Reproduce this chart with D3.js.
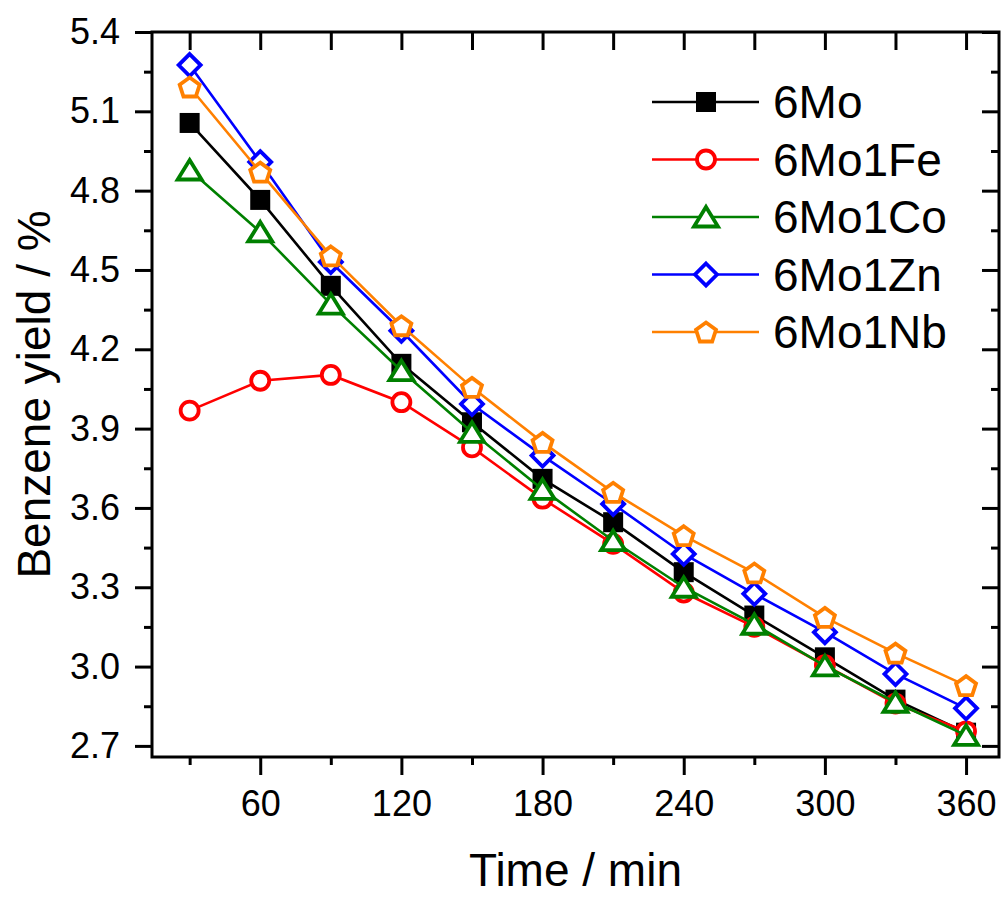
<!DOCTYPE html>
<html>
<head>
<meta charset="utf-8">
<script src="https://cdn.jsdelivr.net/npm/d3@7"></script>
<style>
  body { margin: 0; background: #fff; }
  text { font-family: Arial, "Liberation Sans", sans-serif; fill: #000; }
</style>
</head>
<body>
<div id="container"></div>
<script>
/* CONSTANTS AND GLOBALS */
const width = 1003;
const height = 898;
const margin = { top: 32, right: 4, bottom: 141, left: 152 };

/* DATA */
const times = [30, 60, 90, 120, 150, 180, 210, 240, 270, 300, 330, 360];
const mo   = [5.056, 4.765, 4.44, 4.145, 3.924, 3.71, 3.546, 3.357, 3.193, 3.035, 2.875, 2.75];
const moFe = [3.968, 4.081, 4.103, 4.0, 3.829, 3.635, 3.464, 3.28, 3.15, 3.005, 2.86, 2.755];
const moCo = [4.878, 4.644, 4.371, 4.119, 3.886, 3.67, 3.476, 3.30, 3.16, 3.003, 2.865, 2.74];
const moZn = [5.275, 4.908, 4.53, 4.27, 3.993, 3.798, 3.615, 3.426, 3.275, 3.13, 2.972, 2.842];
const moNb = [5.192, 4.87, 4.553, 4.289, 4.056, 3.848, 3.659, 3.495, 3.354, 3.186, 3.051, 2.928];

const seriesNames = ['6Mo', '6Mo1Fe', '6Mo1Co', '6Mo1Zn', '6Mo1Nb'];
const seriesColors = ['#000000', '#ff0000', '#008000', '#0000ff', '#ff8000'];
const seriesSymbols = ['square', 'circle', 'triangle', 'diamond', 'pentagon'];

const xMajorTicks = [60, 120, 180, 240, 300, 360];
const xMinorTicks = [30, 90, 150, 210, 270, 330];
const yMajorTicks = [2.7, 3.0, 3.3, 3.6, 3.9, 4.2, 4.5, 4.8, 5.1, 5.4];
const yMinorTicks = [2.85, 3.15, 3.45, 3.75, 4.05, 4.35, 4.65, 4.95, 5.25];

const series = [mo, moFe, moCo, moZn, moNb].map((vals, i) => ({
  name: seriesNames[i],
  color: seriesColors[i],
  symbol: seriesSymbols[i],
  values: times.map((t, j) => ({ t: t, v: vals[j] }))
}));

/* SCALES */
const x0 = margin.left, x1 = width - margin.right;
const y0 = height - margin.bottom, y1 = margin.top;

const xScale = d3.scaleLinear().domain([14, 374]).range([x0, x1]);
const yScale = d3.scaleLinear().domain([2.658, 5.4]).range([y0, y1]);

/* SVG */
const svg = d3.select('#container')
  .append('svg')
  .attr('width', width)
  .attr('height', height);

// markers
function drawMarker(g, symbol, color) {
  if (symbol === 'square') {
    g.append('rect').attr('x', -10).attr('y', -10).attr('width', 20).attr('height', 20)
      .attr('fill', color);
  } else if (symbol === 'circle') {
    g.append('circle').attr('r', 9).attr('fill', '#fff')
      .attr('stroke', color).attr('stroke-width', 3.8);
  } else if (symbol === 'triangle') {
    g.append('path').attr('d', 'M0,-10 L12,9.5 L-12,9.5 Z').attr('fill', '#fff')
      .attr('stroke', color).attr('stroke-width', 3.8).attr('stroke-linejoin', 'miter');
  } else if (symbol === 'diamond') {
    g.append('path').attr('d', 'M0,-11 L11,0 L0,11 L-11,0 Z').attr('fill', '#fff')
      .attr('stroke', color).attr('stroke-width', 3.8);
  } else {
    const pts = d3.range(5).map(k => {
      const a = -Math.PI / 2 + k * 2 * Math.PI / 5;
      return [10.5 * Math.cos(a), 10.5 * Math.sin(a) + 1];
    });
    g.append('path').attr('d', 'M' + pts.join('L') + 'Z').attr('fill', '#fff')
      .attr('stroke', color).attr('stroke-width', 3.8);
  }
}

const line = d3.line().x(d => xScale(d.t)).y(d => yScale(d.v));

series.forEach(s => {
  const g = svg.append('g');
  g.append('path')
    .datum(s.values)
    .attr('d', line)
    .attr('fill', 'none')
    .attr('stroke', s.color)
    .attr('stroke-width', 2.6);
  g.selectAll('g.pt')
    .data(s.values)
    .join('g')
    .attr('class', 'pt')
    .attr('transform', d => `translate(${xScale(d.t)},${yScale(d.v)})`)
    .each(function () { drawMarker(d3.select(this), s.symbol, s.color); });
});

/* AXES */
function styleAxis(g) {
  g.select('.domain').remove();
  g.selectAll('line').attr('stroke', '#000').attr('stroke-width', 3);
  g.selectAll('text').style('font-size', '36px').attr('fill', '#000');
}

svg.append('g')
  .attr('transform', `translate(0,${y0})`)
  .call(d3.axisBottom(xScale).tickValues(xMajorTicks).tickSize(18).tickPadding(15).tickSizeOuter(0))
  .call(styleAxis);
svg.append('g')
  .attr('transform', `translate(0,${y0})`)
  .call(d3.axisBottom(xScale).tickValues(xMinorTicks).tickSize(8).tickFormat('').tickSizeOuter(0))
  .call(styleAxis);

svg.append('g')
  .attr('transform', `translate(${x0},0)`)
  .call(d3.axisLeft(yScale).tickValues(yMajorTicks).tickSize(17).tickPadding(15)
    .tickFormat(d3.format('.1f')).tickSizeOuter(0))
  .call(styleAxis);
svg.append('g')
  .attr('transform', `translate(${x0},0)`)
  .call(d3.axisLeft(yScale).tickValues(yMinorTicks).tickSize(8).tickFormat('').tickSizeOuter(0))
  .call(styleAxis);

// top & right: inward ticks
svg.append('g')
  .attr('transform', `translate(0,${y1})`)
  .call(d3.axisBottom(xScale).tickValues(xMajorTicks.concat(xMinorTicks)).tickSize(18).tickFormat('').tickSizeOuter(0))
  .call(styleAxis);
svg.append('g')
  .attr('transform', `translate(${x1},0)`)
  .call(d3.axisLeft(yScale).tickValues(yMajorTicks).tickSize(17).tickFormat('').tickSizeOuter(0))
  .call(styleAxis);
svg.append('g')
  .attr('transform', `translate(${x1},0)`)
  .call(d3.axisLeft(yScale).tickValues(yMinorTicks).tickSize(8).tickFormat('').tickSizeOuter(0))
  .call(styleAxis);

// frame
svg.append('rect')
  .attr('x', x0).attr('y', y1)
  .attr('width', x1 - x0).attr('height', y0 - y1)
  .attr('fill', 'none')
  .attr('stroke', '#000')
  .attr('stroke-width', 3);

/* AXIS TITLES */
svg.append('text')
  .attr('x', (x0 + x1) / 2)
  .attr('y', 886)
  .attr('text-anchor', 'middle')
  .style('font-size', '46px')
  .text('Time / min');

svg.append('text')
  .attr('transform', `translate(50,${(y0 + y1) / 2}) rotate(-90)`)
  .attr('text-anchor', 'middle')
  .style('font-size', '46px')
  .text('Benzene yield / %');

/* LEGEND */
const legend = svg.append('g').attr('transform', 'translate(652,102)');
series.forEach((s, i) => {
  const row = legend.append('g').attr('transform', `translate(0,${i * 57.5})`);
  row.append('line').attr('x1', 0).attr('x2', 107).attr('y1', 0).attr('y2', 0)
    .attr('stroke', s.color).attr('stroke-width', 2.6);
  drawMarker(row.append('g').attr('transform', 'translate(54,0)'), s.symbol, s.color);
  row.append('text')
    .attr('x', 121)
    .attr('y', 16)
    .style('font-size', '46px')
    .text(s.name);
});
</script>
</body>
</html>
